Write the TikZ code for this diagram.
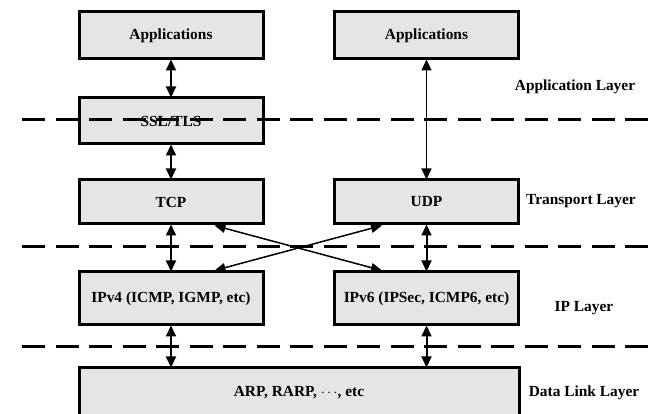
\documentclass[tikz,border=0pt]{standalone}
\usepackage{fontspec}
\setmainfont{Liberation Serif}
\usetikzlibrary{arrows.meta,calc}
\begin{document}
\begin{tikzpicture}[x=1pt,y=-1pt,
  layerbox/.style={draw=black,line width=3pt,fill=gray!20,
    minimum width=184pt,inner sep=0pt,
    font=\fontsize{15.4}{18}\selectfont\bfseries},
  layername/.style={font=\fontsize{15.4}{18}\selectfont\bfseries,inner sep=0pt},
  sep/.style={line width=3pt,dash pattern=on 23pt off 10.5pt},
  link/.style={line width=2pt,{Triangle[length=11pt,width=10pt]}-{Triangle[length=11pt,width=10pt]},shorten <=-1pt,shorten >=-1pt},
  cross/.style={line width=1.5pt,{Triangle[length=11pt,width=9pt]}-{Triangle[length=11pt,width=9pt]}}]
  \clip (0,0) rectangle (654,414);
  \fill[white] (0,0) rectangle (654,414);

  % protocol boxes, left stack
  \node[layerbox,minimum height=47pt] (appL) at (171,35.5) {Applications};
  \node[layerbox,minimum height=46pt] (ssl)  at (171,121) {SSL/TLS};
  \node[layerbox,minimum height=44pt] (tcp)  at (171,202) {TCP};
  \node[layerbox,minimum height=53pt] (ipv4) at (171,298.5) {IPv4 (ICMP, IGMP, etc)};

  % protocol boxes, right stack
  \node[layerbox,minimum height=47pt] (appR) at (426.5,35.5) {Applications};
  \node[layerbox,minimum height=44pt] (udp)  at (426.5,202) {UDP};
  \node[layerbox,minimum height=53pt] (ipv6) at (426.5,298.5) {IPv6 (IPSec, ICMP6, etc)};

  % shared link layer
  \node[layerbox,minimum width=440pt,minimum height=50pt] (arp) at (299,393) {ARP, RARP, $\cdots$, etc};

  % layer names
  \node[layername] (lapp) at (575,87) {Application Layer};
  \node[layername] (ltr)  at (581,201) {Transport Layer};
  \node[layername] (lip)  at (584,308) {IP Layer};
  \node[layername] (ldl)  at (584,393) {Data Link Layer};

  % vertical links
  \draw[link] (appL.south) -- (ssl.north);
  \draw[link] (ssl.south) -- (tcp.north);
  \draw[link] (tcp.south) -- (ipv4.north);
  \draw[link] (ipv4.south) -- (ipv4.south |- arp.north);
  \draw[link,line width=1.5pt] (appR.south) -- (udp.north);
  \draw[link] (udp.south) -- (ipv6.north);
  \draw[link] (ipv6.south) -- (ipv6.south |- arp.north);

  % crossed links between transport and IP layers
  \draw[cross] ($(tcp.south east)+(-50,0)$) -- ($(ipv6.north west)+(49,0)$);
  \draw[cross] ($(ipv4.north east)+(-50,0)$) -- ($(udp.south west)+(49,0)$);

  % layer boundaries
  \coordinate (s1a) at (22,120);  \coordinate (s1b) at (654,120);
  \coordinate (s2a) at (22,247);  \coordinate (s2b) at (654,247);
  \coordinate (s3a) at (22,347);  \coordinate (s3b) at (654,347);
  \draw[sep] (s1a) -- (s1b);
  \draw[sep] (s2a) -- (s2b);
  \draw[sep] (s3a) -- (s3b);
\end{tikzpicture}
\end{document}
